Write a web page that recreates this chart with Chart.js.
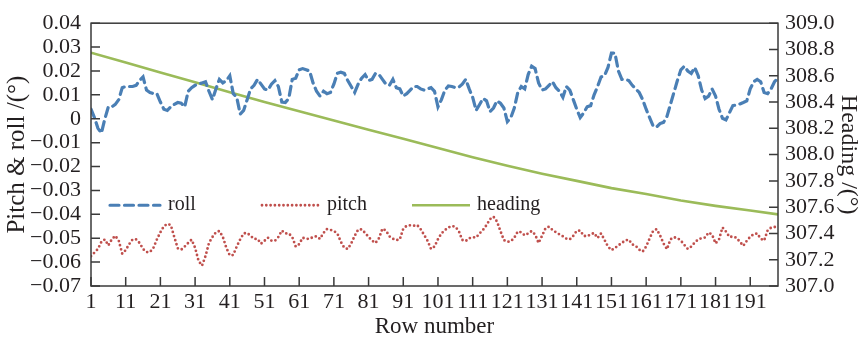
<!DOCTYPE html>
<html>
<head>
<meta charset="utf-8">
<style>
  html, body { margin: 0; padding: 0; background: #ffffff; }
  #wrap { width: 863px; height: 337px; }
</style>
<script src="https://cdn.jsdelivr.net/npm/chart.js@4.4.1/dist/chart.umd.min.js"></script>
</head>
<body>
<div id="wrap"><canvas id="c" width="863" height="337"></canvas></div>
<script>
// ---- data ----
const rollValues = [
  0.004, 0.0005, -0.004, -0.006, 0.0, 0.005, 0.005, 0.006, 0.008, 0.013,
  0.0135, 0.0135, 0.0135, 0.014, 0.016, 0.0175, 0.012, 0.011, 0.0105, 0.0105,
  0.007, 0.004, 0.0035, 0.005, 0.006, 0.0068, 0.0065, 0.005, 0.0115, 0.013,
  0.014, 0.0145, 0.015, 0.0155, 0.0115, 0.008, 0.0125, 0.0165, 0.015, 0.016,
  0.018, 0.0105, 0.009, 0.002, 0.0035, 0.008, 0.0125, 0.014, 0.0165, 0.0145,
  0.0125, 0.012, 0.0145, 0.016, 0.0135, 0.007, 0.0068, 0.0085, 0.0165, 0.017,
  0.0205, 0.021, 0.0205, 0.02, 0.015, 0.0115, 0.0095, 0.0115, 0.0105, 0.011,
  0.0145, 0.019, 0.0195, 0.019, 0.016, 0.0135, 0.011, 0.0145, 0.017, 0.0185,
  0.016, 0.0165, 0.019, 0.0185, 0.0165, 0.0145, 0.014, 0.0165, 0.013, 0.0125,
  0.0095, 0.0105, 0.012, 0.0135, 0.0135, 0.0125, 0.012, 0.0125, 0.013, 0.0115,
  0.005, 0.008, 0.012, 0.0137, 0.0135, 0.013, 0.0132, 0.0145, 0.0165, 0.0125,
  0.009, 0.0035, 0.006, 0.0085, 0.0075, 0.003, 0.0045, 0.0075, 0.0065, 0.0045,
  -0.0012, 0.0005, 0.0045, 0.011, 0.0135, 0.0125, 0.0185, 0.022, 0.021, 0.015,
  0.012, 0.0125, 0.014, 0.0155, 0.013, 0.0115, 0.009, 0.0135, 0.012, 0.008,
  0.004, 0.0005, 0.0025, 0.005, 0.0055, 0.01, 0.0135, 0.0175, 0.018, 0.0215,
  0.0275, 0.0275, 0.02, 0.0165, 0.0165, 0.016, 0.014, 0.0125, 0.011, 0.008,
  0.004, 0.0005, -0.003, -0.0035, -0.002, -0.0015, 0.001, 0.006, 0.011, 0.016,
  0.0205, 0.022, 0.02, 0.019, 0.0215, 0.018, 0.012, 0.0085, 0.0095, 0.0125,
  0.0095, 0.004, 0.0002, -0.0005, 0.0025, 0.0055, 0.0058, 0.0062, 0.0068, 0.0075,
  0.0125, 0.0155, 0.0165, 0.0155, 0.011, 0.0105, 0.0125, 0.0155, 0.017
];
const pitchValues = [
  -0.0575, -0.056, -0.0545, -0.0515, -0.0505, -0.053, -0.0505, -0.049, -0.051, -0.0565,
  -0.055, -0.0525, -0.0505, -0.0505, -0.052, -0.0545, -0.0558, -0.0558, -0.054, -0.0505,
  -0.0475, -0.045, -0.044, -0.0445, -0.0495, -0.0542, -0.0548, -0.0535, -0.052, -0.0506,
  -0.054, -0.0595, -0.0615, -0.0575, -0.052, -0.0495, -0.0475, -0.047, -0.0495, -0.054,
  -0.0572, -0.057, -0.0535, -0.0505, -0.048, -0.0478, -0.049, -0.0503, -0.0503, -0.0523,
  -0.0511, -0.0498, -0.051, -0.0511, -0.0495, -0.0468, -0.048, -0.048, -0.0495, -0.0535,
  -0.0525, -0.0498, -0.0502, -0.0503, -0.0495, -0.0492, -0.0503, -0.0478, -0.0462, -0.0465,
  -0.047, -0.048, -0.0515, -0.054, -0.0545, -0.0522, -0.049, -0.0464, -0.0463, -0.0478,
  -0.0495, -0.051, -0.052, -0.05, -0.046, -0.0468, -0.0492, -0.0502, -0.0508, -0.0505,
  -0.046, -0.0448, -0.0446, -0.0448, -0.0445, -0.0462, -0.0486, -0.0511, -0.0545, -0.0535,
  -0.0504, -0.048, -0.0466, -0.0455, -0.0449, -0.0452, -0.047, -0.0507, -0.0512, -0.05,
  -0.0496, -0.0497, -0.048, -0.0465, -0.0445, -0.042, -0.041, -0.043, -0.047, -0.0508,
  -0.0515, -0.0513, -0.0498, -0.0472, -0.0475, -0.0488, -0.048, -0.047, -0.0485, -0.052,
  -0.049, -0.0458, -0.0452, -0.0465, -0.0475, -0.0484, -0.0492, -0.0502, -0.0505, -0.049,
  -0.0469, -0.0468, -0.049, -0.0492, -0.0484, -0.0478, -0.0499, -0.048, -0.0507, -0.0535,
  -0.055, -0.0541, -0.053, -0.052, -0.0509, -0.0506, -0.0526, -0.0532, -0.0548, -0.0556,
  -0.0535, -0.0501, -0.047, -0.0462, -0.0488, -0.0522, -0.0546, -0.0505, -0.0496, -0.0499,
  -0.051, -0.0528, -0.0545, -0.0535, -0.0518, -0.0505, -0.05, -0.0497, -0.0476, -0.0485,
  -0.0522, -0.0505, -0.0455, -0.0472, -0.0495, -0.0493, -0.0498, -0.0515, -0.0532, -0.0511,
  -0.0494, -0.0483, -0.048, -0.0502, -0.051, -0.0468, -0.0456, -0.0453, -0.0453
];
const headingRows   = [1, 11, 21, 31, 41, 51, 61, 71, 81, 91, 101, 111, 121, 131, 141, 151, 161, 171, 181, 191, 199];
const headingValues = [308.775, 308.70, 308.625, 308.55, 308.475, 308.40, 308.33, 308.26, 308.19, 308.12,
                       308.05, 307.98, 307.915, 307.855, 307.80, 307.745, 307.70, 307.65, 307.61, 307.575, 307.545];
const rows = rollValues.map((_, i) => i + 1);           // row numbers 1..199
const xTickLabels = [1, 11, 21, 31, 41, 51, 61, 71, 81, 91, 101, 111, 121, 131, 141, 151, 161, 171, 181, 191];
const leftTicks  = [-0.07, -0.06, -0.05, -0.04, -0.03, -0.02, -0.01, 0, 0.01, 0.02, 0.03, 0.04];
const rightTicks = [307.0, 307.2, 307.4, 307.6, 307.8, 308.0, 308.2, 308.4, 308.6, 308.8, 309.0];
const seriesNames = ['roll', 'pitch', 'heading'];

// ---- styles ----
const FONT = "'Liberation Serif', 'DejaVu Serif', serif";
const TXT = '#231f20';
const ROLL_C = '#4a7fb5', PITCH_C = '#c0504d', HEAD_C = '#9bbb59';
const TICK_SIZE = 22, TITLE_SIZE = 23, LEGEND_SIZE = 20;

const fmtLeft = v => {
  if (Math.abs(v) < 1e-9) return '0';
  return v < 0 ? '\u2212' + (-v).toFixed(2) : v.toFixed(2);
};

const framePlugin = {
  id: 'frame',
  afterDatasetsDraw(chart) {
    const { ctx, chartArea: a, scales } = chart;
    ctx.save();
    ctx.strokeStyle = '#3a3a3a';
    ctx.lineWidth = 1.5;
    ctx.strokeRect(a.left, a.top, a.right - a.left, a.bottom - a.top);
    const L = 9;
    ctx.beginPath();
    leftTicks.forEach(v => { const y = scales.y.getPixelForValue(v); ctx.moveTo(a.left, y); ctx.lineTo(a.left + L, y); });
    rightTicks.forEach(v => { const y = scales.y1.getPixelForValue(v); ctx.moveTo(a.right, y); ctx.lineTo(a.right - L, y); });
    xTickLabels.forEach(v => { const x = scales.x.getPixelForValue(v); ctx.moveTo(x, a.bottom); ctx.lineTo(x, a.bottom - L); });
    ctx.stroke();

    // legend inside the plot
    const ly = scales.y.getPixelForValue(-0.0362);
    const items = [
      { x0: 110, x1: 160, tx: 168, ds: 0 },
      { x0: 262, x1: 321, tx: 327, ds: 1 },
      { x0: 412, x1: 470, tx: 477, ds: 2 }
    ];
    items.forEach(it => {
      const d = chart.data.datasets[it.ds];
      ctx.save();
      ctx.strokeStyle = d.borderColor;
      ctx.lineWidth = d.borderWidth;
      ctx.lineCap = d.borderCapStyle || 'butt';
      ctx.setLineDash(d.borderDash || []);
      ctx.beginPath();
      ctx.moveTo(it.x0, ly); ctx.lineTo(it.x1, ly);
      ctx.stroke();
      ctx.restore();
      ctx.fillStyle = TXT;
      ctx.font = LEGEND_SIZE + "px " + FONT;
      ctx.textBaseline = 'middle';
      ctx.textAlign = 'left';
      ctx.fillText(d.label, it.tx, ly);
    });
    ctx.restore();
  }
};

new Chart(document.getElementById('c'), {
  type: 'line',
  data: {
    datasets: [
      {
        label: seriesNames[0], yAxisID: 'y',
        data: rows.map((r, i) => ({ x: r, y: rollValues[i] })),
        borderColor: ROLL_C, borderWidth: 3.2, borderDash: [9, 5.5], borderCapStyle: 'round',
        pointRadius: 0, tension: 0, fill: false
      },
      {
        label: seriesNames[1], yAxisID: 'y',
        data: rows.map((r, i) => ({ x: r, y: pitchValues[i] })),
        borderColor: PITCH_C, borderWidth: 2.8, borderDash: [0, 4.3], borderCapStyle: 'round',
        pointRadius: 0, tension: 0, fill: false
      },
      {
        label: seriesNames[2], yAxisID: 'y1',
        data: headingRows.map((r, i) => ({ x: r, y: headingValues[i] })),
        borderColor: HEAD_C, borderWidth: 2.6,
        pointRadius: 0, tension: 0, fill: false
      }
    ]
  },
  options: {
    responsive: false,
    animation: false,
    layout: { padding: { top: 22, right: 0, bottom: 0, left: 0 } },
    plugins: { legend: { display: false }, tooltip: { enabled: false } },
    scales: {
      x: {
        type: 'linear', min: 1, max: 199,
        afterBuildTicks: s => { s.ticks = xTickLabels.map(v => ({ value: v })); },
        afterFit: s => { s.height = 51; },
        grid: { display: false, drawTicks: false },
        border: { display: false },
        ticks: { color: TXT, font: { family: FONT, size: TICK_SIZE }, padding: 3, maxRotation: 0, autoSkip: false,
                 callback: v => String(v) },
        title: { display: true, text: 'Row number', color: TXT, font: { family: FONT, size: TITLE_SIZE }, padding: { top: 0, bottom: -4 } }
      },
      y: {
        position: 'left', min: -0.07, max: 0.04,
        afterBuildTicks: s => { s.ticks = leftTicks.map(v => ({ value: v })); },
        afterFit: s => { s.width = 91; },
        grid: { display: false, drawTicks: false },
        border: { display: false },
        ticks: { color: TXT, font: { family: FONT, size: TICK_SIZE }, padding: 10, autoSkip: false, callback: v => fmtLeft(v) },
        title: { display: true, text: 'Pitch & roll /(°)', color: TXT, font: { family: FONT, size: 25 }, padding: { top: 2, bottom: 2 } }
      },
      y1: {
        position: 'right', min: 307, max: 309,
        afterBuildTicks: s => { s.ticks = rightTicks.map(v => ({ value: v })); },
        afterFit: s => { s.width = 85; },
        grid: { display: false, drawTicks: false },
        border: { display: false },
        ticks: { color: TXT, font: { family: FONT, size: TICK_SIZE }, padding: 7, autoSkip: false, callback: v => Number(v).toFixed(1) },
        title: { display: true, text: 'Heading /(°)', color: TXT, font: { family: FONT, size: 24 }, padding: { top: 0, bottom: 0 } }
      }
    }
  },
  plugins: [framePlugin]
});
</script>
</body>
</html>
